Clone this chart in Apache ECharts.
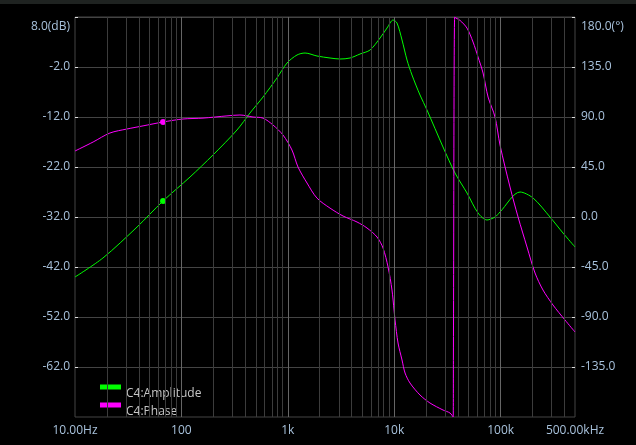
<!DOCTYPE html>
<html>
<head>
<meta charset="utf-8">
<script src="https://cdn.jsdelivr.net/npm/echarts@6/dist/echarts.min.js"></script>
<style>
html,body{margin:0;padding:0;background:#000;}
#c{width:636px;height:445px;}
</style>
</head>
<body>
<div id="c"></div>
<script>
// ---- data (frequency in Hz) ----
const ampFreq = [10,18.3,38.3,67.2,120.5,198,333,441,585,791,983,1220,1452,1880,2493,3097,3845,4772,5927,7360,8560,9750,10620,11840,13190,14690,17470,20320,28740,37250,48300,61350,74500,88600,98700,152200,201700,291000,385600,500000];
const ampDb = [-44,-40.2,-34,-28.8,-24,-19.6,-14.6,-11.2,-8,-4.2,-1.2,0.4,0.8,0.2,-0.2,-0.4,-0.2,0.6,1.4,3.8,5.8,7.4,6.8,3.4,-0.6,-3.6,-7.6,-10.6,-18,-23.2,-27.2,-31.2,-32.6,-32,-31,-27,-28.2,-32,-35.2,-38];
const phaseFreq = [10,14.8,21.3,30.8,43.6,67.2,103.5,159.6,268,355,471,585,726,901,1094,1247,1515,1880,2493,3304,4470,5550,6890,7850,8750,9530,9960,10180,10860,11840,12640,14070,17470,21680,28740,33440,35800,36000,37000,38080,41500,48300,55050,61350,68370,76200,88600,98700,122500,145800,177000,210500,250100,310600,402600,500000];
const phaseDeg = [59.4,67.5,75.6,79.2,82,85.5,88.2,89,91,91.8,90,89,82.8,73.8,60.3,45,30.6,17,8,0.9,-4.5,-9.9,-18,-27.9,-45,-65.7,-83.7,-92.7,-113.4,-128.7,-140.4,-149.4,-160.2,-167.4,-173.7,-176.4,-180,-126,180,179,177,170,157.5,144,129.6,108,90,64.8,27,0,-27,-50.4,-65.7,-79.2,-92.7,-103.5];
const markerFreq = 67.2;
const seriesNames = ['C4:Amplitude','C4:Phase'];
const xTickLabels = {1:'10.00Hz',2:'100',3:'1k',4:'10k',5:'100k'};
const xMaxLabel = '500.00kHz';
const fMin = 10, fMax = 500000;
const dbTicks = [-62,-52,-42,-32,-22,-12,-2,8];
const degTicks = [-135,-90,-45,0,45,90,135,180];
const dbTopLabel = '8.0(dB)';
const degTopLabel = '180.0(°)';

const L = Math.log10;
const xMin = L(fMin), xMax = L(fMax);
const ampData = ampFreq.map((f,i)=> f===markerFreq ? {value:[L(f),ampDb[i]],symbol:'circle',symbolSize:6} : [L(f),ampDb[i]]);
const phaseData = phaseFreq.map((f,i)=> f===markerFreq ? {value:[L(f),phaseDeg[i]],symbol:'circle',symbolSize:6} : [L(f),phaseDeg[i]]);

const minorLines = [], majorLines = [];
for (let n=1;n<=5;n++){
  for (let k=1;k<=9;k++){
    const f = k*Math.pow(10,n);
    if (f<=fMin || f>=fMax) continue;
    (k===1?majorLines:minorLines).push({xAxis:L(f)});
  }
}

const labelColor = '#a8c2dc';
const font = '"Open Sans", "DejaVu Sans", sans-serif';
const legRich = {e:{fontSize:12,lineHeight:13},t:{color:'#c8c8c8',fontSize:12,fontFamily:font,lineHeight:14}};
const legendBase = {left:100,padding:0,orient:'vertical',icon:'rect',itemWidth:21,itemHeight:5,
  formatter:n=>'{e| }\n{t|'+n+'}',textStyle:{color:'#c8c8c8',fontSize:12,fontFamily:font,rich:legRich}};
const chart = echarts.init(document.getElementById('c'));
chart.setOption({
  backgroundColor:'#000',
  animation:false,
  graphic:[
    {type:'rect',left:0,top:0,shape:{width:636,height:4},style:{fill:'#1f2321'}},
    {type:'text',x:70,y:27,style:{text:dbTopLabel,fill:labelColor,font:'12px '+font,align:'right',verticalAlign:'middle'}},
    {type:'text',x:581,y:27,style:{text:degTopLabel,fill:labelColor,font:'12px '+font,align:'left',verticalAlign:'middle'}}
  ],
  grid:{left:75,top:17,width:500,height:400,show:true,borderColor:'#444',borderWidth:1,backgroundColor:'transparent'},
  legend:[
    Object.assign({data:[seriesNames[0]],top:374},legendBase),
    Object.assign({data:[seriesNames[1]],top:392},legendBase)
  ],
  xAxis:{type:'value',min:xMin,max:xMax,interval:1,
    axisLine:{show:false},axisTick:{show:false},splitLine:{show:false},
    axisLabel:{color:labelColor,fontSize:12,fontFamily:font,margin:8,showMinLabel:true,showMaxLabel:true,
      formatter:v=>{ if (Math.abs(v-xMax)<1e-6) return xMaxLabel; const r=Math.round(v); return Math.abs(v-r)<1e-6 && xTickLabels[r]!==undefined ? xTickLabels[r] : ''; }}
  },
  yAxis:[
    {type:'value',min:-72,max:8,interval:10,position:'left',
     axisLine:{show:false},
     axisTick:{show:true,inside:true,length:3,lineStyle:{color:'#e0e0e0'},customValues:dbTicks},
     splitLine:{show:false},
     axisLabel:{customValues:dbTicks.filter(v=>v!==8),color:labelColor,fontSize:12,fontFamily:font,margin:5,
       formatter:v=> v===8 ? '' : v.toFixed(1)}
    },
    {type:'value',min:-180,max:180,interval:45,position:'right',
     axisLine:{show:false},
     axisTick:{show:true,inside:true,length:3,lineStyle:{color:'#e0e0e0'},customValues:degTicks},
     splitLine:{show:true,lineStyle:{color:'#444',width:1}},
     axisLabel:{customValues:degTicks.filter(v=>v!==180),color:labelColor,fontSize:12,fontFamily:font,margin:6,
       formatter:v=> (v===180||v===-180) ? '' : v.toFixed(1)}
    }
  ],
  series:[
    {name:'grid-minor',type:'line',data:[],silent:true,
     markLine:{silent:true,symbol:'none',label:{show:false},animation:false,
       lineStyle:{color:'#3c3c3c',type:'solid',width:1},emphasis:{disabled:true},data:minorLines}},
    {name:'grid-major',type:'line',data:[],silent:true,
     markLine:{silent:true,symbol:'none',label:{show:false},animation:false,
       lineStyle:{color:'#666',type:'solid',width:1},emphasis:{disabled:true},data:majorLines}},
    {name:seriesNames[0],type:'line',yAxisIndex:0,data:ampData,symbol:'none',smooth:0.3,
     lineStyle:{color:'#00ff00',width:1},itemStyle:{color:'#00ff00'},color:'#00ff00'},
    {name:seriesNames[1],type:'line',yAxisIndex:1,data:phaseData,symbol:'none',smooth:0.3,
     lineStyle:{color:'#ff00ff',width:1},itemStyle:{color:'#ff00ff'},color:'#ff00ff'}
  ]
});
</script>
</body>
</html>
